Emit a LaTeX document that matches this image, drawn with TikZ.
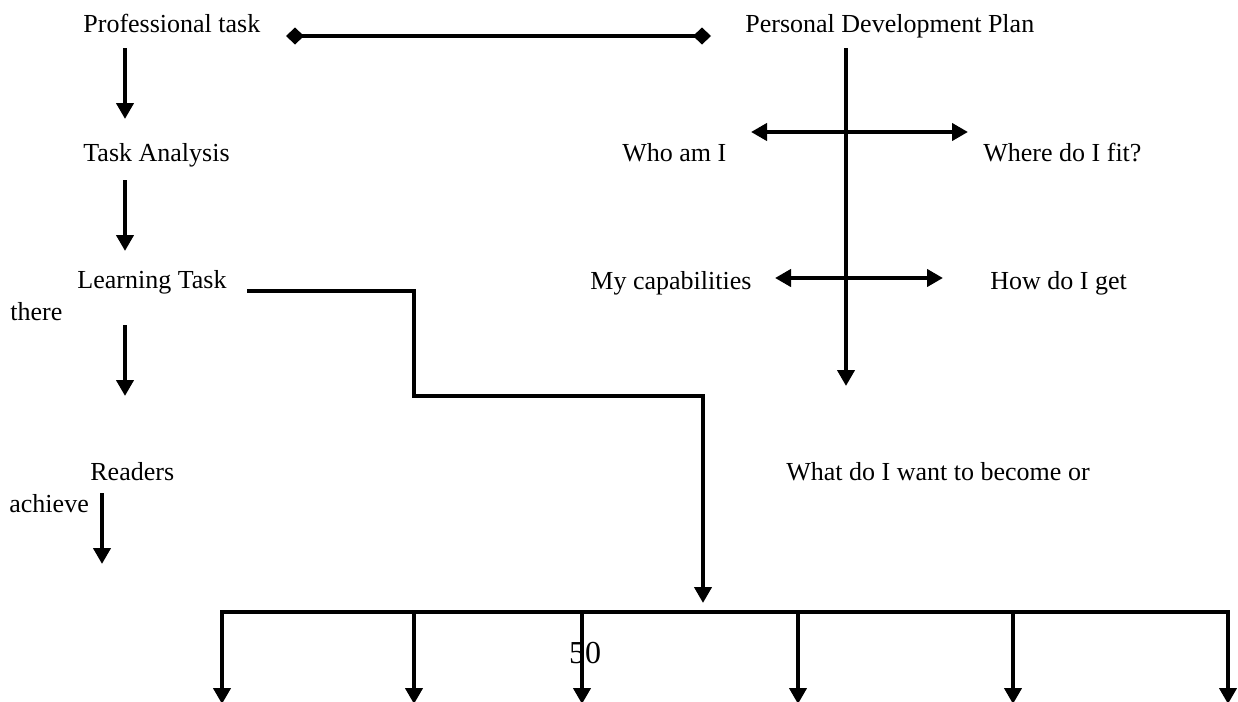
\documentclass[tikz,border=0pt]{standalone}
\usepackage{fontspec}
\setmainfont{Liberation Serif}
\usetikzlibrary{arrows.meta}

\tikzset{
  txt/.style = {anchor = base west, inner sep = 0pt, font = \fontsize{13}{15}\selectfont},
  link/.style = {line width = 2pt},
  diamondends/.style = {{Diamond[length=9pt, width=8.5pt]}-{Diamond[length=9pt, width=8.5pt]}}
}

\begin{document}
\begin{tikzpicture}[x = 0.5pt, y = -0.5pt, >={Triangle[length=8pt, width=8.5pt]}]
      \useasboundingbox (0,0) rectangle (1238,702);

      % left column
      \node[txt] (prof) at (83,32) {Professional task};
      \node[txt] (task) at (83,161) {Task Analysis};
      \node[txt] (learn) at (77,288) {Learning Task};
      \node[txt] (there) at (10,320) {there};
      \node[txt] (read) at (90,480) {Readers};
      \node[txt] (achieve) at (9,512) {achieve};

      % right column
      \node[txt] (pdp) at (745,32) {Personal Development Plan};
      \node[txt] (who) at (622,161) {Who am I};
      \node[txt] (fit) at (983,161) {Where do I fit?};
      \node[txt] (cap) at (590,289) {My capabilities};
      \node[txt] (how) at (990,289) {How do I get};
      \node[txt] (want) at (786,480) {What do I want to become or};
      \node[txt, anchor = base, font = \fontsize{16}{18}\selectfont] (page) at (585,663) {50};

      % connector ends
      \coordinate (d1) at (286,36);
      \coordinate (d2) at (711,36);
      \coordinate (a1) at (125,48);
      \coordinate (b1) at (125,119);
      \coordinate (a2) at (125,180);
      \coordinate (b2) at (125,251);
      \coordinate (a3) at (125,325);
      \coordinate (b3) at (125,396);
      \coordinate (a4) at (102,493);
      \coordinate (b4) at (102,564);
      \coordinate (v1) at (846,48);
      \coordinate (v2) at (846,386);
      \coordinate (w1) at (751,132);
      \coordinate (w2) at (968,132);
      \coordinate (c1) at (775,278);
      \coordinate (c2) at (943,278);
      \coordinate (s0) at (247,291);
      \coordinate (s1) at (414,396);
      \coordinate (s2) at (703,603);
      \coordinate (bl) at (222,612);
      \coordinate (br) at (1228,612);
      \coordinate (tl) at (222,704);
      \coordinate (tr) at (1228,704);

      \path[link, diamondends] (d1) edge (d2);
      \path[link, ->] (a1) edge (b1);
      \path[link, ->] (a2) edge (b2);
      \path[link, ->] (a3) edge (b3);
      \path[link, ->] (a4) edge (b4);
      \path[link, ->] (v1) edge (v2);
      \path[link, <->] (w1) edge (w2);
      \path[link, <->] (c1) edge (c2);

      \draw[link, ->] (s0) -| (s1) -| (s2);
      \draw[link, <->] (tl) -- (bl) -- (br) -- (tr);
      \foreach \x in {414,582,798,1013}
        \draw[link, ->] (\x,612) -- (\x,704);
\end{tikzpicture}
\end{document}
